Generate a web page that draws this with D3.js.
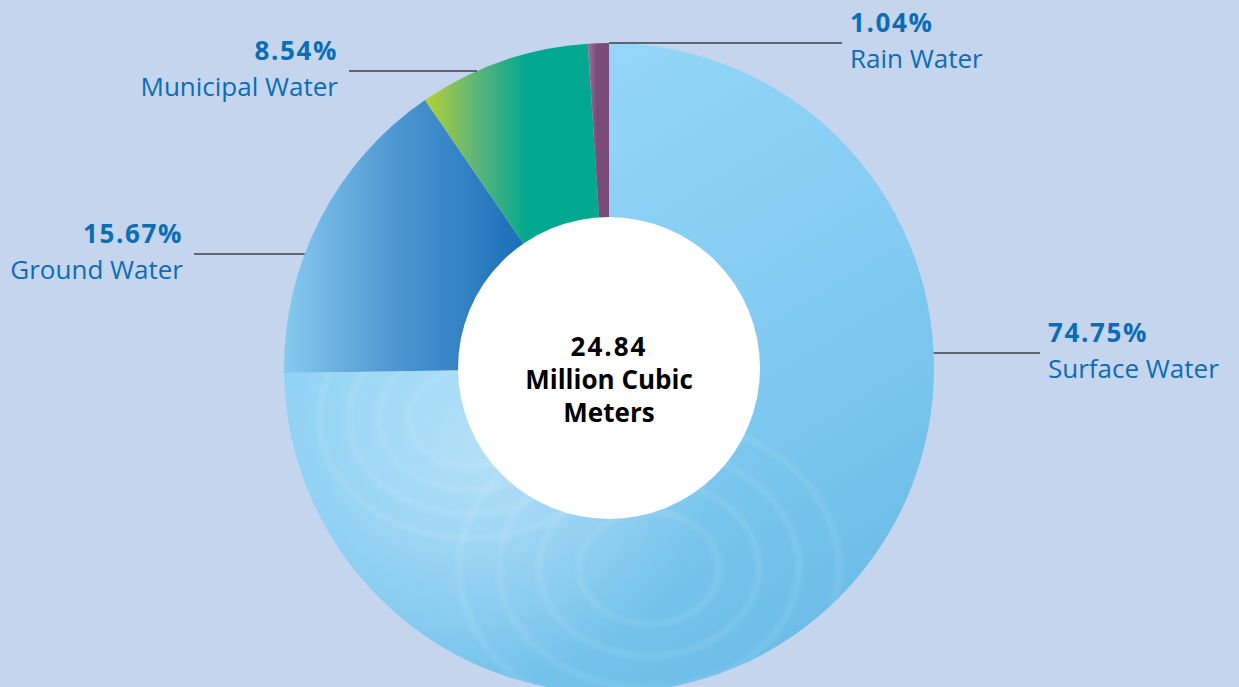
<!DOCTYPE html>
<html>
<head>
<meta charset="utf-8">
<script src="https://cdn.jsdelivr.net/npm/d3@7"></script>
<style>
  html, body { margin: 0; padding: 0; background: #c6d5ee; overflow: hidden; }
  svg { display: block; }
</style>
</head>
<body>
<div id="chart-area"></div>
<script>
// water withdrawal by source
var categories = ['Surface Water', 'Ground Water', 'Municipal Water', 'Rain Water'];
var shares = [74.75, 15.67, 8.54, 1.04];
var pctLabels = ['74.75%', '15.67%', '8.54%', '1.04%'];
var centerLines = ['24.84', 'Million Cubic', 'Meters'];

var width = 1239, height = 687;
var cx = 609, cy = 368;
var outerR = 325, innerR = 151;

var data = categories.map(function(c, i) {
  return { name: c, value: shares[i], pct: pctLabels[i] };
});

var svg = d3.select('#chart-area').append('svg')
  .attr('width', width)
  .attr('height', height);

svg.append('rect')
  .attr('width', width)
  .attr('height', height)
  .attr('fill', '#c6d5ee');

var defs = svg.append('defs');

// gradient coords are relative to the pie centre
function linGrad(id, x1, x2, y1, y2, stops) {
  var g = defs.append('linearGradient')
    .attr('id', id)
    .attr('gradientUnits', 'userSpaceOnUse')
    .attr('x1', x1).attr('x2', x2)
    .attr('y1', y1).attr('y2', y2);
  stops.forEach(function(s) {
    g.append('stop').attr('offset', s[0]).attr('stop-color', s[1]);
  });
}

linGrad('g-surface', -150, 250, -325, 325,
  [[0, '#98d9f8'], [0.45, '#86cdf3'], [0.8, '#72c1ea'], [1, '#66b8e5']]);
linGrad('g-ground', -outerR, -85, 0, 0,
  [[0, '#86caef'], [0.45, '#4f98d2'], [1, '#1a6fb9']]);
linGrad('g-municipal', -185, -80, 0, 0,
  [[0, '#b6d132'], [0.5, '#5db57a'], [1, '#00a88f']]);
linGrad('g-rain', -28, -12, 0, 0,
  [[0, '#b294b0'], [1, '#7a4b77']]);

var soft = defs.append('radialGradient')
  .attr('id', 'g-light')
  .attr('gradientUnits', 'userSpaceOnUse')
  .attr('cx', cx - 120).attr('cy', cy + 80).attr('r', 230);
soft.append('stop').attr('offset', 0).attr('stop-color', '#ffffff').attr('stop-opacity', 0.4);
soft.append('stop').attr('offset', 1).attr('stop-color', '#ffffff').attr('stop-opacity', 0);

defs.append('filter')
  .attr('id', 'blur')
  .append('feGaussianBlur')
    .attr('stdDeviation', 2.5);

var fills = {
  'Surface Water': 'url(#g-surface)',
  'Ground Water': 'url(#g-ground)',
  'Municipal Water': 'url(#g-municipal)',
  'Rain Water': 'url(#g-rain)'
};

var pie = d3.pie()
  .sort(null)
  .value(function(d) { return d.value; });

var arc = d3.arc()
  .innerRadius(0)
  .outerRadius(outerR);

var arcs = pie(data);

var g = svg.append('g')
  .attr('transform', 'translate(' + cx + ',' + cy + ')');

g.selectAll('path.slice')
  .data(arcs)
  .enter()
  .append('path')
    .attr('class', 'slice')
    .attr('d', arc)
    .attr('fill', function(d) { return fills[d.data.name]; });

// water ripple texture on the surface water slice
defs.append('clipPath')
  .attr('id', 'clip-surface')
  .append('path')
    .attr('transform', 'translate(' + cx + ',' + cy + ')')
    .attr('d', arc(arcs[0]));

var tex = svg.append('g').attr('clip-path', 'url(#clip-surface)');
tex.append('circle')
  .attr('cx', cx - 120).attr('cy', cy + 80).attr('r', 230)
  .attr('fill', 'url(#g-light)');

var ripples = [
  { x: cx - 140, y: cy + 50, r: [60, 90, 120, 150] },
  { x: cx + 40, y: cy + 200, r: [70, 110, 150, 190] }
];
var rippleG = tex.append('g').attr('filter', 'url(#blur)');
ripples.forEach(function(rp) {
  rippleG.selectAll(null)
    .data(rp.r)
    .enter()
    .append('ellipse')
      .attr('cx', rp.x)
      .attr('cy', rp.y)
      .attr('rx', function(d) { return d; })
      .attr('ry', function(d) { return d * 0.8; })
      .attr('fill', 'none')
      .attr('stroke', '#ffffff')
      .attr('stroke-opacity', 0.12)
      .attr('stroke-width', 5);
});

// hole
svg.append('circle')
  .attr('cx', cx)
  .attr('cy', cy)
  .attr('r', innerR)
  .attr('fill', '#ffffff');

svg.append('text')
  .attr('x', cx)
  .attr('y', cy - 12)
  .attr('text-anchor', 'middle')
  .attr('font-family', 'Open Sans, sans-serif')
  .attr('font-weight', 700)
  .attr('font-size', 26)
  .attr('fill', '#000000')
  .selectAll('tspan')
  .data(centerLines)
  .enter()
  .append('tspan')
    .attr('x', cx)
    .attr('dy', function(d, i) { return i === 0 ? 0 : 33; })
    .attr('letter-spacing', function(d, i) { return i === 0 ? 2 : 0; })
    .text(function(d) { return d; });

// callouts: line y, side, label x
var callouts = {
  'Surface Water': { y: 353, side: 1, lx: 1048 },
  'Ground Water': { y: 254, side: -1, lx: 183 },
  'Municipal Water': { y: 71, side: -1, lx: 338 },
  'Rain Water': { y: 43, side: 1, lx: 850 }
};

arcs.forEach(function(d) {
  var c = callouts[d.data.name];
  var dy = c.y - cy;
  var edge = cx + c.side * Math.sqrt(outerR * outerR - dy * dy);
  if (d.data.name === 'Rain Water') edge = cx;
  var lineEnd = c.side > 0 ? c.lx - 8 : c.lx + 11;

  svg.append('line')
    .attr('x1', edge)
    .attr('x2', lineEnd)
    .attr('y1', c.y)
    .attr('y2', c.y)
    .attr('stroke', '#3a3f4a')
    .attr('stroke-width', 1.3);

  var anchor = c.side > 0 ? 'start' : 'end';
  svg.append('text')
    .attr('x', c.lx)
    .attr('y', c.y - 11)
    .attr('text-anchor', anchor)
    .attr('font-family', 'Open Sans, sans-serif')
    .attr('font-weight', 700)
    .attr('font-size', 26)
    .attr('letter-spacing', 1.6)
    .attr('fill', '#0b6db6')
    .text(d.data.pct);

  svg.append('text')
    .attr('x', c.lx)
    .attr('y', c.y + 25)
    .attr('text-anchor', anchor)
    .attr('font-family', 'Open Sans, sans-serif')
    .attr('font-size', 26)
    .attr('fill', '#0b6db6')
    .text(d.data.name);
});
</script>
</body>
</html>
